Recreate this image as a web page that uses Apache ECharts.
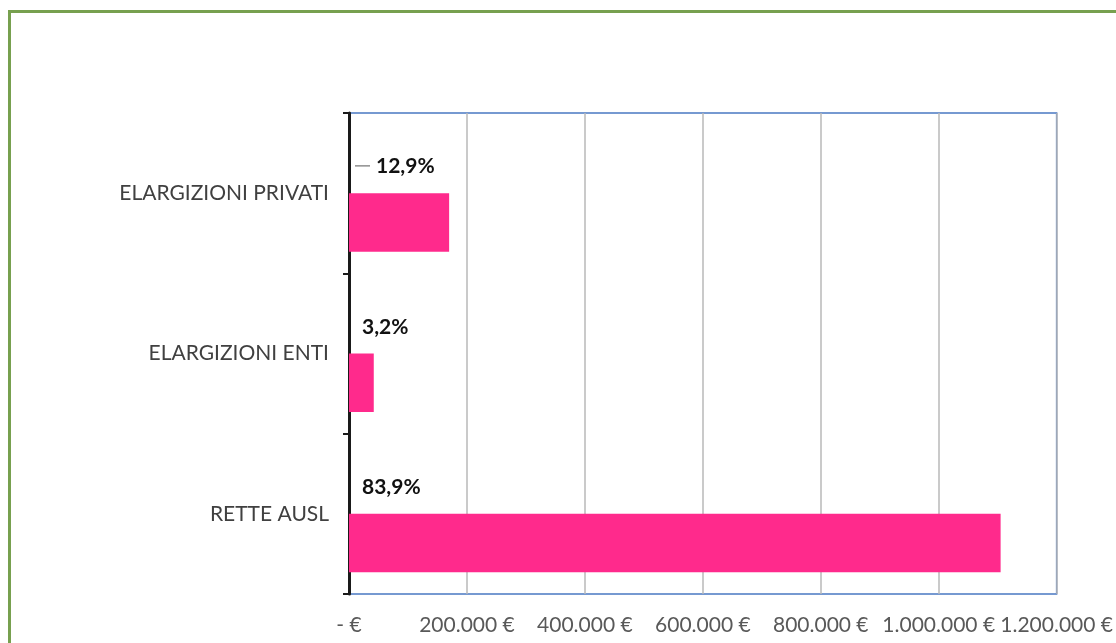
<!DOCTYPE html>
<html><head><meta charset="utf-8">
<script src="https://cdn.jsdelivr.net/npm/echarts@6/dist/echarts.min.js"></script>
<style>
html,body{margin:0;padding:0;background:#fff;overflow:hidden;}
#frame{position:absolute;left:8px;top:10px;width:1200px;height:800px;border:3px solid #77a04f;box-sizing:border-box;}
#chart{position:absolute;left:0;top:0;width:1116px;height:643px;}
</style></head>
<body>
<div id="frame"></div>
<div id="chart"></div>
<script>
const categories = ['RETTE AUSL', 'ELARGIZIONI ENTI', 'ELARGIZIONI PRIVATI'];
const values = [1105000, 42000, 169800];
const pctLabels = ['83,9%', '3,2%', '12,9%'];
const leaderFlags = [false, false, true];
const xTicks = { min: 0, max: 1200000, interval: 200000 };

const chart = echarts.init(document.getElementById('chart'));
const fmt = v => v === 0 ? '- €' : v.toString().replace(/\B(?=(\d{3})+(?!\d))/g, '.') + ' €';
chart.setOption({
  animation: false,
  textStyle: { fontFamily: 'Lato, "Open Sans", sans-serif' },
  grid: { left: 349, right: 58, top: 113, bottom: 49, show: true, borderColor: '#4a78c2', borderWidth: 1.5, containLabel: false },
  xAxis: {
    type: 'value', min: xTicks.min, max: xTicks.max, interval: xTicks.interval,
    axisLine: { show: false }, axisTick: { show: false },
    splitLine: { show: true, lineStyle: { color: '#b8b8b8', width: 1.5 } },
    axisLabel: { formatter: fmt, color: '#595959', fontSize: 21, margin: 21, fontFamily: 'Lato, sans-serif' }
  },
  yAxis: {
    type: 'category', data: categories,
    axisLine: { show: true, lineStyle: { color: '#1a1a1a', width: 3 } },
    axisTick: { show: true, length: 6, lineStyle: { color: '#1a1a1a', width: 2 } },
    axisLabel: { color: '#404040', fontSize: 21, margin: 20 },
    splitLine: { show: false }
  },
  series: [
    {
      type: 'bar', data: values.map(() => 0), barGap: '0%', barCategoryGap: '27%',
      itemStyle: { color: 'transparent' },
      label: {
        show: true, position: 'right',
        distance: 13,
        formatter: p => leaderFlags[p.dataIndex] ? '{ln|}{gap|}{b|' + pctLabels[p.dataIndex] + '}' : '{b|' + pctLabels[p.dataIndex] + '}',
        rich: {
          b: { fontSize: 21, fontWeight: 'bold', color: '#111', fontFamily: 'Lato, sans-serif' },
          ln: { width: 15, height: 1, backgroundColor: '#555' },
          gap: { width: 6 }
        }
      },
      labelLayout: p => leaderFlags[p.dataIndex] ? { dx: -7, dy: 2 } : { dy: 3 }
    },
    {
      type: 'bar', data: values, barGap: '0%', barCategoryGap: '27%',
      itemStyle: { color: '#ff2a8c' }, z: 3
    }
  ]
});
</script>
</body></html>
